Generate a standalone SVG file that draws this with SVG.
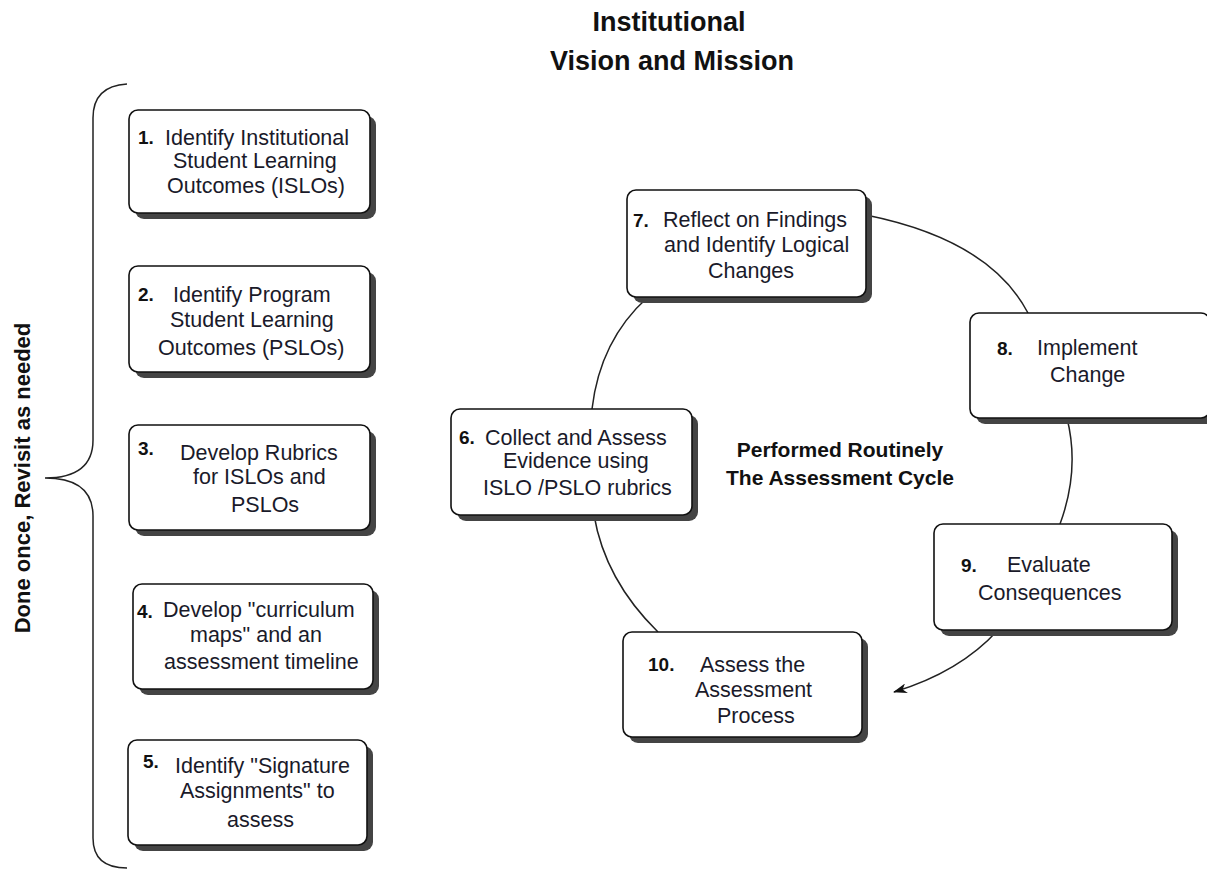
<svg xmlns="http://www.w3.org/2000/svg" width="1207" height="871" viewBox="0 0 1207 871">
<style>
.box{fill:#fff;stroke:#111;stroke-width:1.6}
.sh{fill:#444}
.t{font-family:"Liberation Sans",Arial,sans-serif;font-size:21.5px;fill:#1a1a2a}
.n{font-family:"Liberation Sans",Arial,sans-serif;font-size:19px;font-weight:bold;fill:#111}
.b{font-family:"Liberation Sans",Arial,sans-serif;font-weight:bold;fill:#111}
.c{fill:none;stroke:#222;stroke-width:1.5}
</style>
<defs>
<marker id="ah" markerWidth="14" markerHeight="10" refX="13" refY="5" orient="auto" markerUnits="userSpaceOnUse">
<path d="M0,0 L14,5 L0,10 L4,5 Z" fill="#111"/>
</marker>
</defs>
<rect width="1207" height="871" fill="#fff"/>
<g id="title">
<text class="b" x="669" y="31" font-size="27" text-anchor="middle">Institutional</text>
<text class="b" x="672" y="70" font-size="27" text-anchor="middle">Vision and Mission</text>
</g>
<g id="brace">
<path class="c" d="M127,84 Q93,86 93,118 L93,440 Q93,478 45,478 Q93,478 93,516 L93,838 Q93,868 127,868"/>
<text class="b" font-size="22" transform="translate(30,478) rotate(-90)" text-anchor="middle">Done once, Revisit as needed</text>
</g>
<g id="connectors">
<path class="c" d="M866,215 Q990,240 1028,313"/>
<path class="c" d="M1067,418 Q1080,470 1060,524"/>
<path class="c" d="M998,630 Q960,672 894,692" marker-end="url(#ah)"/>
<path class="c" d="M658,632 Q605,580 594,515"/>
<path class="c" d="M592,409 Q600,340 648,297"/>
</g>
<g id="n1">
<rect class="sh" x="135" y="116" width="241" height="103" rx="9"/>
<rect class="box" x="129" y="110" width="241" height="103" rx="9"/>
<text class="n" x="138" y="144">1.</text>
<text class="t" x="165" y="145">Identify Institutional</text>
<text class="t" x="173" y="168">Student Learning</text>
<text class="t" x="167" y="193">Outcomes (ISLOs)</text>
</g>
<g id="n2">
<rect class="sh" x="135" y="272" width="241" height="106" rx="9"/>
<rect class="box" x="129" y="266" width="241" height="106" rx="9"/>
<text class="n" x="138" y="301">2.</text>
<text class="t" x="173" y="302">Identify Program</text>
<text class="t" x="170" y="327">Student Learning</text>
<text class="t" x="158" y="355">Outcomes (PSLOs)</text>
</g>
<g id="n3">
<rect class="sh" x="135" y="431" width="241" height="105" rx="9"/>
<rect class="box" x="129" y="425" width="241" height="105" rx="9"/>
<text class="n" x="138" y="455" font-size="17">3.</text>
<text class="t" x="180" y="460">Develop Rubrics</text>
<text class="t" x="193" y="484">for ISLOs and</text>
<text class="t" x="231" y="512">PSLOs</text>
</g>
<g id="n4">
<rect class="sh" x="139" y="590" width="240" height="105" rx="9"/>
<rect class="box" x="133" y="584" width="240" height="105" rx="9"/>
<text class="n" x="137" y="618" font-size="17">4.</text>
<text class="t" x="163" y="617">Develop "curriculum</text>
<text class="t" x="190" y="642">maps" and an</text>
<text class="t" x="164" y="669">assessment timeline</text>
</g>
<g id="n5">
<rect class="sh" x="134" y="746" width="239" height="105" rx="9"/>
<rect class="box" x="128" y="740" width="239" height="105" rx="9"/>
<text class="n" x="143" y="768" font-size="17">5.</text>
<text class="t" x="175" y="773">Identify "Signature</text>
<text class="t" x="180" y="798">Assignments" to</text>
<text class="t" x="227" y="827">assess</text>
</g>
<g id="n7">
<rect class="sh" x="633" y="196" width="239" height="107" rx="9"/>
<rect class="box" x="627" y="190" width="239" height="107" rx="9"/>
<text class="n" x="633" y="227" font-size="20">7.</text>
<text class="t" x="663" y="227">Reflect on Findings</text>
<text class="t" x="664" y="252">and Identify Logical</text>
<text class="t" x="708" y="278">Changes</text>
</g>
<g id="n8">
<rect class="sh" x="976" y="319" width="240" height="105" rx="9"/>
<rect class="box" x="970" y="313" width="240" height="105" rx="9"/>
<text class="n" x="997" y="355">8.</text>
<text class="t" x="1037" y="355">Implement</text>
<text class="t" x="1050" y="382">Change</text>
</g>
<g id="n6">
<rect class="sh" x="457" y="415" width="241" height="106" rx="9"/>
<rect class="box" x="451" y="409" width="241" height="106" rx="9"/>
<text class="n" x="459" y="444">6.</text>
<text class="t" x="485" y="445">Collect and Assess</text>
<text class="t" x="503" y="468">Evidence using</text>
<text class="t" x="483" y="495">ISLO /PSLO rubrics</text>
</g>
<g id="n9">
<rect class="sh" x="940" y="530" width="238" height="106" rx="9"/>
<rect class="box" x="934" y="524" width="238" height="106" rx="9"/>
<text class="n" x="961" y="572">9.</text>
<text class="t" x="1007" y="572">Evaluate</text>
<text class="t" x="978" y="600">Consequences</text>
</g>
<g id="n10">
<rect class="sh" x="629" y="638" width="239" height="105" rx="9"/>
<rect class="box" x="623" y="632" width="239" height="105" rx="9"/>
<text class="n" x="648" y="671" font-size="20">10.</text>
<text class="t" x="700" y="672">Assess the</text>
<text class="t" x="695" y="697">Assessment</text>
<text class="t" x="717" y="723">Process</text>
</g>
<g id="center">
<text class="b" font-size="21" x="840" y="457" text-anchor="middle">Performed Routinely</text>
<text class="b" font-size="21" x="840" y="485" text-anchor="middle">The Assessment Cycle</text>
</g>
</svg>
